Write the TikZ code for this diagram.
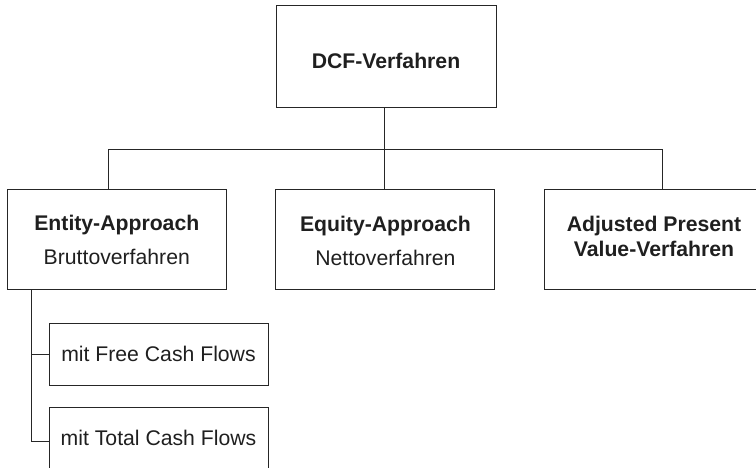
\documentclass[tikz,border=0pt]{standalone}
\usepackage{fontspec}
\setmainfont{Liberation Sans}
\begin{document}
\begin{tikzpicture}[x=1pt,y=-1pt,
  box/.style={draw=black!85, line width=0.9pt, rectangle, inner sep=0pt, minimum width=219pt, minimum height=100pt},
  subbox/.style={draw=black!85, line width=0.9pt, rectangle, inner sep=0pt, minimum width=219pt, minimum height=62pt},
  txt/.style={inner sep=0pt, align=center, text=black!88, font=\fontsize{21.2}{25.5}\selectfont},
  conn/.style={draw=black!85, line width=0.9pt}]
\clip (0,0) rectangle (756,468);
% boxes
\node[box, minimum width=220pt, minimum height=102pt] (dcf) at (386,56) {};
\node[box] (ent) at (116.8,239.7) {};
\node[box] (eq) at (385.4,239.7) {};
\node[box] (apv) at (654,239.7) {};
\node[subbox] (f1) at (158.5,354) {};
\node[subbox, minimum height=68pt] (f2) at (158.5,441) {};
% texts
\node[txt] (dcft) at (386,61) {\textbf{DCF-Verfahren}};
\node[txt] (entt) at (116.8,240) {\textbf{Entity-Approach}\\[9pt]Bruttoverfahren};
\node[txt] (eqt) at (385.4,241) {\textbf{Equity-Approach}\\[9pt]Nettoverfahren};
\node[txt] (apvt) at (654,236.5) {\textbf{Adjusted Present}\\[0pt]\textbf{Value-Verfahren}};
\node[txt] (f1t) at (158.5,354) {mit Free Cash Flows};
\node[txt] (f2t) at (158.5,438) {mit Total Cash Flows};
% connectors
\coordinate (busL) at (108.3,149.3);
\coordinate (busM) at (384.3,149.3);
\coordinate (busR) at (662.7,149.3);
\coordinate (subx) at (31.7,290);
\draw[conn] (dcf.south -| busM) -- (busM);
\draw[conn] (busL) -- (busR);
\draw[conn] (busL) -- (busL |- ent.north);
\draw[conn] (busM) -- (busM |- eq.north);
\draw[conn] (busR) -- (busR |- apv.north);
\draw[conn] (ent.south -| subx) |- (f1.west);
\draw[conn] (ent.south -| subx) |- (f2.west);
\end{tikzpicture}
\end{document}
